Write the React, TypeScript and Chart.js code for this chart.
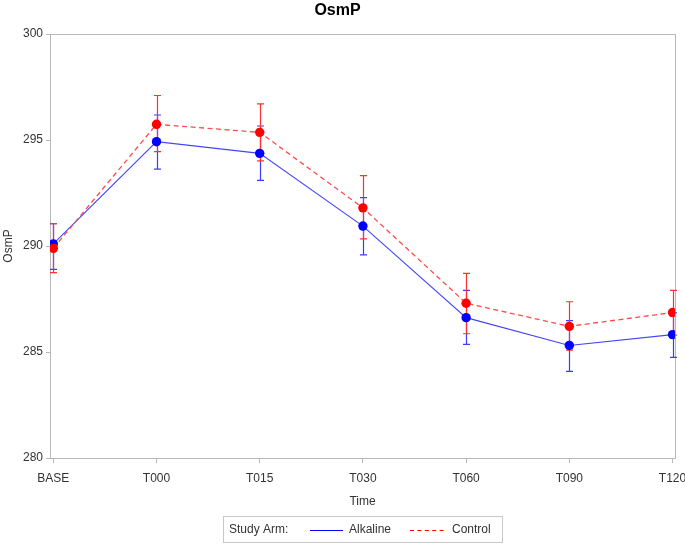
import React, { useEffect, useRef } from "react";
import { Chart, registerables } from "chart.js";

Chart.register(...registerables);

const timeLabels = ["BASE", "T000", "T015", "T030", "T060", "T090", "T120"];
const yTickValues = [280, 285, 290, 295, 300];

const alkalineMean = [290.1, 294.92, 294.37, 290.94, 286.62, 285.31, 285.82];
const alkalineLower = [288.9, 293.63, 293.1, 289.58, 285.36, 284.09, 284.75];
const alkalineUpper = [291.05, 296.18, 295.66, 292.28, 287.91, 286.48, 286.85];

const controlMean = [289.89, 295.74, 295.36, 291.8, 287.3, 286.21, 286.86];
const controlLower = [288.74, 294.45, 294.02, 290.34, 285.86, 285.09, 285.8];
const controlUpper = [291.05, 297.1, 296.7, 293.32, 288.71, 287.37, 287.91];

const FONT = "'Liberation Sans', Arial, sans-serif";
const TEXT = "#333333";
const FRAME = "#b8b8b8";

const errorBarPlugin = {
  id: "errorBars",
  beforeDatasetsDraw(chart: any) {
    const { ctx, scales } = chart;
    const x = scales.x;
    const y = scales.y;
    const sets = [
      { lower: alkalineLower, upper: alkalineUpper, color: "#3c3cff" },
      { lower: controlLower, upper: controlUpper, color: "#ff3030" },
    ];
    ctx.save();
    ctx.lineWidth = 1.2;
    sets.forEach((s) => {
      ctx.strokeStyle = s.color;
      for (let i = 0; i < timeLabels.length; i++) {
        const px = Math.round(x.getPixelForValue(i)) + 0.5;
        const top = y.getPixelForValue(s.upper[i]);
        const bot = y.getPixelForValue(s.lower[i]);
        ctx.beginPath();
        ctx.moveTo(px, top);
        ctx.lineTo(px, bot);
        ctx.moveTo(px - 3.5, top);
        ctx.lineTo(px + 3.5, top);
        ctx.moveTo(px - 3.5, bot);
        ctx.lineTo(px + 3.5, bot);
        ctx.stroke();
      }
    });
    ctx.restore();
  },
};

const framePlugin = {
  id: "frame",
  beforeDatasetsDraw(chart: any) {
    const { ctx, chartArea } = chart;
    ctx.save();
    ctx.strokeStyle = FRAME;
    ctx.lineWidth = 1;
    ctx.strokeRect(
      Math.round(chartArea.left) + 0.5,
      Math.round(chartArea.top) + 0.5,
      Math.round(chartArea.right - chartArea.left),
      Math.round(chartArea.bottom - chartArea.top)
    );
    ctx.restore();
  },
};

const legendPlugin = {
  id: "customLegend",
  afterDraw(chart: any) {
    const { ctx } = chart;
    ctx.save();
    ctx.strokeStyle = "#c8c8c8";
    ctx.lineWidth = 1;
    ctx.strokeRect(223.5, 516.5, 279, 26);
    const cy = 530;
    ctx.font = `12px ${FONT}`;
    ctx.fillStyle = TEXT;
    ctx.textBaseline = "middle";
    ctx.textAlign = "left";
    ctx.fillText("Study Arm:", 229, cy);
    ctx.lineWidth = 1.2;
    ctx.strokeStyle = "#0000ff";
    ctx.beginPath();
    ctx.moveTo(310, cy + 0.5);
    ctx.lineTo(343, cy + 0.5);
    ctx.stroke();
    ctx.fillText("Alkaline", 349, cy);
    ctx.strokeStyle = "#ff0000";
    ctx.setLineDash([4, 3.4]);
    ctx.beginPath();
    ctx.moveTo(410, cy + 0.5);
    ctx.lineTo(447, cy + 0.5);
    ctx.stroke();
    ctx.setLineDash([]);
    ctx.fillText("Control", 452, cy);
    ctx.restore();
  },
};

export default function App() {
  const canvasRef = useRef<HTMLCanvasElement | null>(null);

  useEffect(() => {
    if (!canvasRef.current) return;
    const chart = new Chart(canvasRef.current, {
      type: "line",
      data: {
        datasets: [
          {
            label: "Alkaline",
            data: alkalineMean.map((v, i) => ({ x: i, y: v })),
            borderColor: "#4444ff",
            backgroundColor: "#0000ff",
            pointBackgroundColor: "#0000ff",
            pointBorderColor: "#0000ff",
            borderWidth: 1.1,
            pointRadius: 4.7,
            pointBorderWidth: 0,
            order: 1,
          },
          {
            label: "Control",
            data: controlMean.map((v, i) => ({ x: i, y: v })),
            borderColor: "#ff4a4a",
            backgroundColor: "#ff0000",
            pointBackgroundColor: "#ff0000",
            pointBorderColor: "#ff0000",
            borderWidth: 1.3,
            borderDash: [5, 3.5],
            pointRadius: 4.7,
            pointBorderWidth: 0,
            order: 0,
          },
        ],
      },
      options: {
        responsive: false,
        animation: false,
        layout: { padding: { left: 0, right: 10, top: 0, bottom: 33 } },
        plugins: {
          legend: { display: false },
          tooltip: { enabled: false },
          title: {
            display: true,
            text: "OsmP",
            color: "#000000",
            font: { family: FONT, size: 16, weight: "bold" },
            padding: { top: 1, bottom: 13.8 },
          },
        },
        scales: {
          x: {
            type: "linear",
            min: -0.032,
            max: 6.024,
            afterFit: (s: any) => {
              s.height = 54;
              s.paddingLeft = 0;
              s.paddingRight = 0;
            },
            border: { display: false },
            grid: {
              display: true,
              drawOnChartArea: false,
              drawTicks: true,
              tickLength: 5,
              color: FRAME,
            },
            ticks: {
              stepSize: 1,
              includeBounds: false,
              autoSkip: false,
              maxRotation: 0,
              padding: 8,
              color: TEXT,
              font: { family: FONT, size: 12 },
              callback: (v: any) =>
                Number.isInteger(v) && v >= 0 && v < timeLabels.length ? timeLabels[v] : "",
            },
            title: {
              display: true,
              text: "Time",
              color: TEXT,
              font: { family: FONT, size: 12 },
              padding: { top: 0, bottom: 3 },
            },
          },
          y: {
            min: yTickValues[0],
            max: yTickValues[yTickValues.length - 1],
            afterFit: (s: any) => {
              s.width = 50;
              s.paddingTop = 0;
              s.paddingBottom = 0;
            },
            afterBuildTicks: (s: any) => {
              s.ticks = yTickValues.map((v) => ({ value: v }));
            },
            border: { display: false },
            grid: {
              display: true,
              drawOnChartArea: false,
              drawTicks: true,
              tickLength: 4,
              color: FRAME,
            },
            ticks: {
              padding: 3,
              color: TEXT,
              font: { family: FONT, size: 12 },
            },
            title: {
              display: true,
              text: "OsmP",
              color: TEXT,
              font: { family: FONT, size: 12 },
              padding: { top: 1, bottom: 0 },
            },
          },
        },
      },
      plugins: [framePlugin, errorBarPlugin, legendPlugin],
    } as any);
    return () => chart.destroy();
  }, []);

  return (
    <div style={{ position: "absolute", left: 0, top: 0, width: 685, height: 545, background: "#ffffff" }}>
      <canvas ref={canvasRef} width={685} height={545} style={{ width: 685, height: 545, display: "block" }} />
    </div>
  );
}
